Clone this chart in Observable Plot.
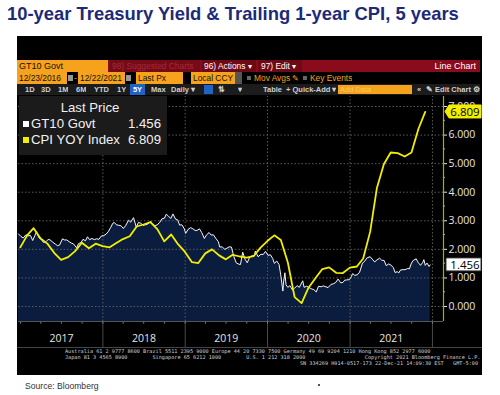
<!DOCTYPE html>
<html><head><meta charset="utf-8">
<script src="https://cdn.jsdelivr.net/npm/d3@7"></script>
<script src="https://cdn.jsdelivr.net/npm/@observablehq/plot@0.6"></script>
<style>
body{margin:0;width:500px;height:395px;background:#fff;position:relative;overflow:hidden;font-family:"Open Sans",sans-serif;}
.a{position:absolute;white-space:nowrap;box-sizing:border-box;overflow:hidden;}
#title{left:7px;top:3px;font:bold 18.4px "Liberation Sans",Arial,sans-serif;color:#1d2a77;overflow:visible;}
.tb{font-family:"Liberation Sans",Arial,sans-serif;font-size:8.4px;line-height:12px;height:12px;}
.or{background:#f6a21c;color:#111;padding-left:2px;}
.bt{font-family:"Liberation Sans",Arial,sans-serif;color:#cfcfcf;font-size:7.5px;line-height:11px;height:11px;font-weight:bold;}
.mono{font-family:"DejaVu Sans Mono",monospace;font-size:5.2px;color:#d0d0d0;line-height:6px;height:6px;white-space:pre;overflow:visible;}
#legend{left:19px;top:96px;width:148px;height:59px;background:#1b1b1b;color:#f2f2f2;font-family:"Liberation Sans",Arial,sans-serif;font-size:13.2px;line-height:16px;}
.sq{display:inline-block;width:6px;height:6px;margin-right:2px;vertical-align:1px;}
</style></head>
<body>
<div class="a" id="title">10-year Treasury Yield &amp; Trailing 1-year CPI, 5 years</div>
<div class="a" style="left:17px;top:36px;width:465px;height:339px;background:#000;"></div>
<!-- toolbar row 1 -->
<div class="a tb" style="left:17px;top:60px;width:463px;background:#8a0b1c;"></div>
<div class="a tb or" style="left:17px;top:60px;width:91px;font-size:9px;">GT10 Govt</div>
<div class="a tb" style="left:110px;top:60px;width:90px;background:#760a17;color:#a52a3a;padding-left:2px;">98) Suggested Charts</div>
<div class="a tb" style="left:202px;top:60px;width:54px;background:#6f0915;color:#fff;padding-left:2px;">96) Actions ▾</div>
<div class="a tb" style="left:258px;top:60px;width:44px;background:#6f0915;color:#fff;padding-left:3px;">97) Edit ▾</div>
<div class="a tb" style="left:420px;top:60px;width:56px;color:#fff;text-align:right;font-size:9px;">Line Chart</div>
<!-- toolbar row 2 -->
<div class="a tb or" style="left:17px;top:72px;width:50px;">12/23/2016</div>
<div class="a" style="left:68px;top:75px;width:5px;height:6px;background:#999;"></div>
<div class="a tb" style="left:74px;top:72px;color:#f6a21c;">-</div>
<div class="a tb or" style="left:78px;top:72px;width:47px;">12/22/2021</div>
<div class="a" style="left:126px;top:75px;width:5px;height:6px;background:#999;"></div>
<div class="a tb or" style="left:136px;top:72px;width:47px;">Last Px</div>
<div class="a tb or" style="left:191px;top:72px;width:44px;">Local CCY</div>
<div class="a" style="left:235px;top:72px;width:7px;height:12px;background:#555;"></div>
<div class="a" style="left:247px;top:76px;width:4px;height:4px;background:#666;"></div>
<div class="a tb" style="left:254px;top:72px;color:#f6a21c;">Mov Avgs ✎</div>
<div class="a" style="left:303px;top:76px;width:4px;height:4px;background:#666;"></div>
<div class="a tb" style="left:310px;top:72px;color:#f6a21c;">Key Events</div>
<!-- toolbar row 3 -->
<div class="a" style="left:17px;top:84px;width:463px;height:11px;background:#1c1c1c;"></div>
<div class="a bt" style="left:25px;top:84px;">1D</div>
<div class="a bt" style="left:41px;top:84px;">3D</div>
<div class="a bt" style="left:58px;top:84px;">1M</div>
<div class="a bt" style="left:76px;top:84px;">6M</div>
<div class="a bt" style="left:94px;top:84px;">YTD</div>
<div class="a bt" style="left:117px;top:84px;">1Y</div>
<div class="a bt" style="left:130px;top:84px;width:15px;background:#1f63c6;color:#fff;text-align:center;">5Y</div>
<div class="a bt" style="left:151px;top:84px;">Max</div>
<div class="a bt" style="left:171px;top:84px;">Daily ▾</div>
<div class="a" style="left:204px;top:85px;width:9px;height:9px;background:#1f63c6;"></div>
<div class="a bt" style="left:218px;top:84px;">⇅</div>
<div class="a bt" style="left:238px;top:84px;">▾</div>
<div class="a bt" style="left:263px;top:84px;">Table</div>
<div class="a bt" style="left:286px;top:84px;">+ Quick-Add ▾</div>
<div class="a bt" style="left:338px;top:85px;width:74px;height:9px;background:#f6a21c;color:#f9c86a;font-weight:400;line-height:9px;padding-left:2px;">Add Data</div>
<div class="a bt" style="left:417px;top:84px;">«</div>
<div class="a bt" style="left:426px;top:84px;">✎ Edit Chart ⚙</div>

<div class="a" id="chart" style="left:17px;top:96px;overflow:visible;"></div>

<div class="a" id="legend">
  <div style="text-align:center;margin-top:4px;margin-left:-6px;height:16px;">Last Price</div>
  <div style="padding-left:4px;height:16px;"><span class="sq" style="background:#fff"></span>GT10 Govt<span style="position:absolute;right:6px;">1.456</span></div>
  <div style="padding-left:4px;height:16px;"><span class="sq" style="background:#f2ee00"></span>CPI YOY Index<span style="position:absolute;right:6px;">6.809</span></div>
</div>

<div class="a" style="left:17px;top:347px;width:465px;height:1px;background:#444;"></div>
<div class="a mono" style="left:65px;top:348px;">Australia 61 2 9777 8600 Brazil 5511 2395 9000 Europe 44 20 7330 7500 Germany 49 69 9204 1210 Hong Kong 852 2977 6000</div>
<div class="a mono" style="left:65px;top:354px;">Japan 81 3 4565 8900        Singapore 65 6212 1000        U.S. 1 212 318 2000                   Copyright 2021 Bloomberg Finance L.P.</div>
<div class="a mono" style="left:300px;top:360px;">SN 334269 H914-0517-173 22-Dec-21 14:09:30 EST   GMT-5:00</div>
<div class="a" style="left:25px;top:381px;font:8.6px 'Liberation Sans',Arial,sans-serif;color:#333;overflow:visible;">Source: Bloomberg</div>
<div class="a" style="left:318px;top:384px;width:2px;height:2px;background:#555;"></div>

<script>
const gt10Dates = [
"2016-12-23",
"2017-01-03","2017-01-13","2017-01-25","2017-02-03","2017-02-14","2017-02-24","2017-03-06","2017-03-13","2017-03-23","2017-04-03","2017-04-13","2017-04-24","2017-05-04","2017-05-12","2017-05-24","2017-06-05","2017-06-14","2017-06-23","2017-07-06","2017-07-14","2017-07-25","2017-08-04","2017-08-14","2017-08-24","2017-09-07","2017-09-15","2017-09-26","2017-10-05","2017-10-16","2017-10-25","2017-11-03","2017-11-14","2017-11-24","2017-12-04","2017-12-14","2017-12-26",
"2018-01-05","2018-01-16","2018-01-25","2018-02-05","2018-02-14","2018-02-21","2018-03-02","2018-03-13","2018-03-22","2018-04-02","2018-04-12","2018-04-25","2018-05-04","2018-05-17","2018-05-29","2018-06-08","2018-06-18","2018-06-28","2018-07-10","2018-07-20","2018-08-01","2018-08-10","2018-08-21","2018-08-30","2018-09-10","2018-09-20","2018-10-01","2018-10-09","2018-10-18","2018-10-29","2018-11-08","2018-11-19","2018-11-29","2018-12-07","2018-12-17","2018-12-28",
"2019-01-03","2019-01-14","2019-01-25","2019-02-04","2019-02-14","2019-02-25","2019-03-05","2019-03-15","2019-03-27","2019-04-05","2019-04-17","2019-04-26","2019-05-06","2019-05-16","2019-05-28","2019-06-03","2019-06-14","2019-06-25","2019-07-05","2019-07-15","2019-07-25","2019-08-05","2019-08-15","2019-08-27","2019-09-03","2019-09-13","2019-09-24","2019-10-03","2019-10-14","2019-10-24","2019-11-04","2019-11-08","2019-11-20","2019-12-03","2019-12-13","2019-12-23",
"2020-01-03","2020-01-14","2020-01-24","2020-01-31","2020-02-11","2020-02-21","2020-02-28","2020-03-09","2020-03-12","2020-03-18","2020-03-23","2020-03-31","2020-04-09","2020-04-21","2020-04-30","2020-05-11","2020-05-21","2020-06-05","2020-06-11","2020-06-22","2020-07-02","2020-07-13","2020-07-24","2020-08-04","2020-08-14","2020-08-26","2020-09-04","2020-09-16","2020-09-25","2020-10-08","2020-10-20","2020-10-29","2020-11-09","2020-11-20","2020-11-30","2020-12-08","2020-12-17","2020-12-29",
"2021-01-06","2021-01-12","2021-01-22","2021-02-02","2021-02-12","2021-02-25","2021-03-05","2021-03-18","2021-03-31","2021-04-09","2021-04-20","2021-04-30","2021-05-12","2021-05-21","2021-06-01","2021-06-10","2021-06-21","2021-07-01","2021-07-12","2021-07-19","2021-07-30","2021-08-04","2021-08-13","2021-08-24","2021-09-02","2021-09-13","2021-09-21","2021-09-30","2021-10-08","2021-10-21","2021-10-29","2021-11-09","2021-11-19","2021-11-24","2021-11-30","2021-12-08","2021-12-17","2021-12-22"];
const gt10Yields = [
2.54,
2.45,2.40,2.51,2.47,2.49,2.31,2.49,2.62,2.41,2.35,2.24,2.27,2.35,2.33,2.25,2.18,2.13,2.15,2.37,2.33,2.33,2.27,2.22,2.19,2.05,2.20,2.24,2.35,2.30,2.44,2.34,2.38,2.34,2.37,2.35,2.47,
2.48,2.54,2.62,2.77,2.91,2.94,2.86,2.84,2.83,2.73,2.83,3.02,2.95,3.11,2.78,2.94,2.92,2.84,2.86,2.89,2.98,2.87,2.83,2.86,2.94,3.07,3.09,3.23,3.17,3.08,3.24,3.06,3.03,2.85,2.86,2.72,
2.56,2.70,2.76,2.72,2.66,2.67,2.72,2.59,2.38,2.50,2.59,2.50,2.51,2.39,2.27,2.08,2.09,2.00,2.04,2.09,2.08,1.74,1.53,1.48,1.47,1.90,1.64,1.53,1.73,1.77,1.79,1.94,1.74,1.83,1.82,1.93,
1.79,1.81,1.68,1.51,1.59,1.47,1.13,0.54,0.86,1.18,0.76,0.67,0.73,0.57,0.64,0.73,0.67,0.90,0.67,0.71,0.67,0.62,0.59,0.51,0.71,0.69,0.72,0.69,0.66,0.77,0.80,0.84,0.96,0.83,0.84,0.92,0.93,0.94,
1.04,1.15,1.09,1.11,1.20,1.52,1.57,1.71,1.74,1.66,1.56,1.63,1.69,1.62,1.61,1.43,1.49,1.45,1.36,1.19,1.22,1.17,1.28,1.29,1.29,1.33,1.32,1.52,1.61,1.67,1.55,1.44,1.54,1.64,1.44,1.52,1.40,1.456];

const cpiDates = [
"2016-12-31",
"2017-01-31","2017-02-28","2017-03-31","2017-04-30","2017-05-31","2017-06-30","2017-07-31","2017-08-31","2017-09-30","2017-10-31","2017-11-30","2017-12-31",
"2018-01-31","2018-02-28","2018-03-31","2018-04-30","2018-05-31","2018-06-30","2018-07-31","2018-08-31","2018-09-30","2018-10-31","2018-11-30","2018-12-31",
"2019-01-31","2019-02-28","2019-03-31","2019-04-30","2019-05-31","2019-06-30","2019-07-31","2019-08-31","2019-09-30","2019-10-31","2019-11-30","2019-12-31",
"2020-01-31","2020-02-29","2020-03-31","2020-04-30","2020-05-31","2020-06-30","2020-07-31","2020-08-31","2020-09-30","2020-10-31","2020-11-30","2020-12-31",
"2021-01-31","2021-02-28","2021-03-31","2021-04-30","2021-05-31","2021-06-30","2021-07-31","2021-08-31","2021-09-30","2021-10-31","2021-11-30"];
const cpiValues = [
2.07,
2.50,2.74,2.38,2.20,1.87,1.63,1.73,1.94,2.23,2.04,2.20,2.11,
2.07,2.21,2.36,2.46,2.80,2.87,2.95,2.70,2.28,2.52,2.18,1.91,
1.55,1.52,1.86,2.00,1.79,1.65,1.81,1.75,1.71,1.76,2.05,2.29,
2.49,2.33,1.54,0.33,0.12,0.65,0.99,1.31,1.37,1.18,1.17,1.36,
1.40,1.68,2.62,4.16,4.99,5.39,5.37,5.25,5.39,6.22,6.809];

const yearLabels = ["2017","2018","2019","2020","2021"];
const yTicks = [0,1,2,3,4,5,6,7];
const yMinorTicks = [0.5,1.5,2.5,3.5,4.5,5.5,6.5];
const lastGT10 = 1.456, lastCPI = 6.809;

const gt10 = gt10Dates.map((d,i)=>({date:new Date(d), v:gt10Yields[i]}));
const cpi = cpiDates.map((d,i)=>({date:new Date(d), v:cpiValues[i]}));
const midYears = yearLabels.map(y=>new Date(y+"-07-02"));
const yearStarts = ["2018","2019","2020","2021","2022"].map(y=>new Date(y+"-01-01"));
const quarterStarts = [];
for (const y of [2017,2018,2019,2020,2021,2022]) for (const m of ["01","04","07","10"]) {
  const d = new Date(y+"-"+m+"-01"); if (d > new Date("2016-12-23") && d < new Date("2022-02-19")) quarterStarts.push(d);
}
const xStart = new Date("2016-12-23"), xEnd = new Date("2022-02-19");
const yMin = -0.525, yMax = 7.35;
const pxPerUnit = 225/(yMax-yMin);
const yBand = yMin - 26/pxPerUnit;

const chart = Plot.plot({
  width:465, height:251, marginLeft:1, marginRight:39, marginTop:0, marginBottom:26,
  style:{background:"#000", color:"#e6e6e6", fontFamily:"Open Sans, sans-serif", fontSize:"10.5px"},
  x:{type:"utc", domain:[xStart,xEnd], ticks:midYears, tickFormat:d=>String(d.getUTCFullYear()), tickSize:0, tickPadding:13, label:null},
  y:{domain:[yMin,yMax], axis:"right", ticks:yTicks, tickFormat:d=>d.toFixed(3), tickSize:3, tickPadding:2, label:null},
  marks:[
    Plot.areaY(gt10,{x:"date", y1:yMin, y2:"v", fill:"#0b1d3f"}),
    Plot.ruleY(yTicks,{stroke:"#5a5a5a", strokeDasharray:"1.5,2", strokeWidth:1}),
    Plot.ruleX(yearStarts,{y1:yMin, y2:yMax, stroke:"#5a5a5a", strokeDasharray:"1.5,2"}),
    Plot.ruleX(yearStarts,{y1:yMin, y2:yBand, stroke:"#4a4a4a"}),
    Plot.ruleX(quarterStarts,{y1:yMin, y2:yMin-0.09, stroke:"#888"}),
    Plot.ruleY([yMin],{stroke:"#555"}),
    Plot.lineY(gt10,{x:"date", y:"v", stroke:"#f4f4f4", strokeWidth:1}),
    Plot.lineY(cpi,{x:"date", y:"v", stroke:"#f2ee00", strokeWidth:1.8}),
    Plot.ruleX([xEnd],{y1:yMin, y2:yMax, stroke:"#b8a800", strokeWidth:1.2})
  ]
});
document.getElementById("chart").appendChild(chart);

// minor ticks and last-value tags, positioned through the chart's own scales
const sx = chart.scale("x"), sy = chart.scale("y");
const ax = sx.apply(xEnd);
const svg = d3.select(chart);
const g = svg.append("g");
g.selectAll("line.minor").data(yMinorTicks).join("line")
  .attr("x1",ax).attr("x2",ax+2).attr("y1",d=>sy.apply(d)).attr("y2",d=>sy.apply(d))
  .attr("stroke","#aaa");
function tag(v, fill, stroke, arrow){
  const y = sy.apply(v);
  const x0 = ax+2, x1 = 464;
  const pts = arrow ? [[x0,y],[x0+4,y-6.5],[x1,y-6.5],[x1,y+6.5],[x0+4,y+6.5]]
                    : [[x0+1,y-6.5],[x1,y-6.5],[x1,y+6.5],[x0+1,y+6.5]];
  g.append("polygon").attr("points",pts.map(p=>p.join(",")).join(" "))
    .attr("fill",fill).attr("stroke",stroke).attr("stroke-width",1);
  g.append("text").attr("x",(x0+x1)/2+2).attr("y",y).attr("dy","0.36em")
    .attr("text-anchor","middle").attr("fill","#000").attr("font-size","11.5px")
    .text(v.toFixed(3));
}
tag(lastCPI,"#f2ee00","#f2ee00",true);
tag(lastGT10,"#ffffff","#333",false);
</script>
</body></html>
